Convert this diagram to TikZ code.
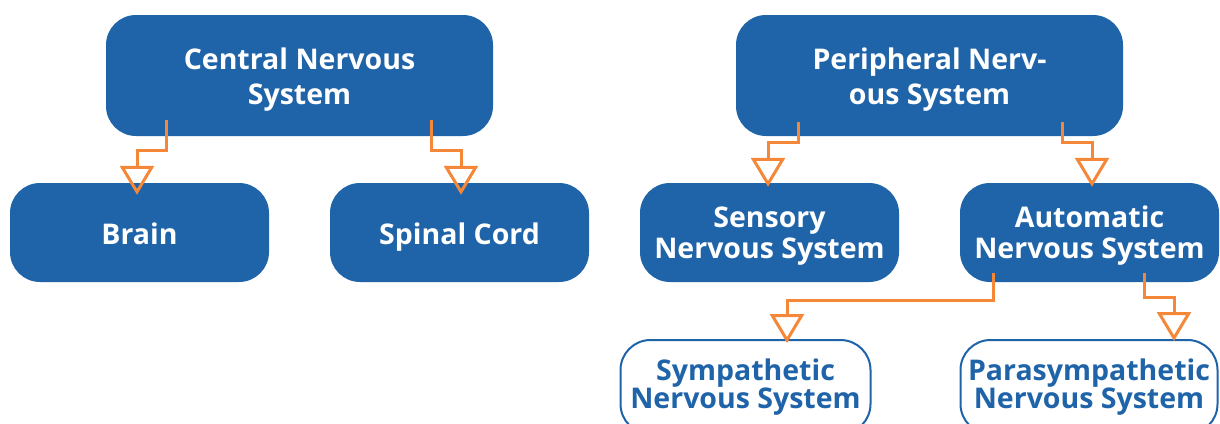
\documentclass[tikz,border=0pt]{standalone}
\usepackage{fontspec}
\setmainfont{Open Sans}
\usetikzlibrary{arrows.meta}
\definecolor{nsblue}{RGB}{31,99,168}
\definecolor{nsorange}{RGB}{245,136,56}
\newcommand{\tophgt}[1]{\rule{0pt}{#1}}
\newcommand{\botdp}{\rule[-8pt]{0pt}{8pt}}
\begin{document}
\begin{tikzpicture}[x=1pt,y=-1pt,
  filledbox/.style={fill=nsblue, text=white, rounded corners=30pt, align=center, inner sep=0pt},
  topfont/.style={font=\bfseries\fontsize{28.5}{35.5}\selectfont},
  midfont/.style={font=\bfseries\fontsize{28.5}{31}\selectfont},
  lowbox/.style={draw=nsblue, line width=2pt, fill=white, text=nsblue, rounded corners=30pt, align=center, inner sep=0pt, font=\bfseries\fontsize{28.5}{28}\selectfont},
  conn/.style={draw=nsorange, line width=3pt, -{Triangle[open, width=34pt, length=29pt]}}
]
\useasboundingbox (0,0) rectangle (1220,423);
\clip (0,0) rectangle (1220,423);

\node[filledbox, topfont, minimum width=387pt, minimum height=121pt] (cns) at (299.5,75.5) {\tophgt{30.5pt}Central Nervous\\System\botdp};
\node[filledbox, topfont, minimum width=387pt, minimum height=121pt] (pns) at (929.5,75.5) {\tophgt{30.5pt}Peripheral Nerv-\\ous System\botdp};

\node[filledbox, midfont, minimum width=259pt, minimum height=99pt] (brain) at (139.5,232.5) {\tophgt{31pt}Brain\botdp};
\node[filledbox, midfont, minimum width=259pt, minimum height=99pt] (spinal) at (459.5,232.5) {\tophgt{31pt}Spinal Cord\botdp};
\node[filledbox, midfont, minimum width=259pt, minimum height=99pt] (sensory) at (769.5,232.5) {\tophgt{29pt}Sensory\\Nervous System\botdp};
\node[filledbox, midfont, minimum width=259pt, minimum height=99pt] (auto) at (1089.5,232.5) {\tophgt{29pt}Automatic\\Nervous System\botdp};

\node[lowbox, minimum width=250pt, minimum height=94pt] (symp) at (745.5,387) {\tophgt{22pt}Sympathetic\\Nervous System\botdp};
\node[lowbox, minimum width=257pt, minimum height=94pt] (para) at (1089,387) {\tophgt{22pt}Parasympathetic\\Nervous System\botdp};

\coordinate (cnsL) at (166,120);
\coordinate (cnsR) at (431,120);
\coordinate (pnsL) at (798,122);
\coordinate (pnsR) at (1062,122);
\coordinate (autoL) at (993,273);
\coordinate (autoR) at (1144,273);

\draw[conn] (cnsL) -- ++(0,30) -| ([xshift=-2.5pt,yshift=-12pt]brain.north);
\draw[conn] (cnsR) -- ++(0,30) -| ([xshift=1.5pt,yshift=-12pt]spinal.north);
\draw[conn] (pnsL) -- ++(0,20) -| ([xshift=-1.5pt,yshift=-4pt]sensory.north);
\draw[conn] (pnsR) -- ++(0,20) -| ([xshift=2.5pt,yshift=-4pt]auto.north);
\draw[conn] (autoL) -- ++(0,27) -| ([xshift=41.5pt,yshift=-4pt]symp.north);
\draw[conn] (autoR) -- ++(0,24) -| ([xshift=85pt,yshift=-2pt]para.north);
\end{tikzpicture}
\end{document}
